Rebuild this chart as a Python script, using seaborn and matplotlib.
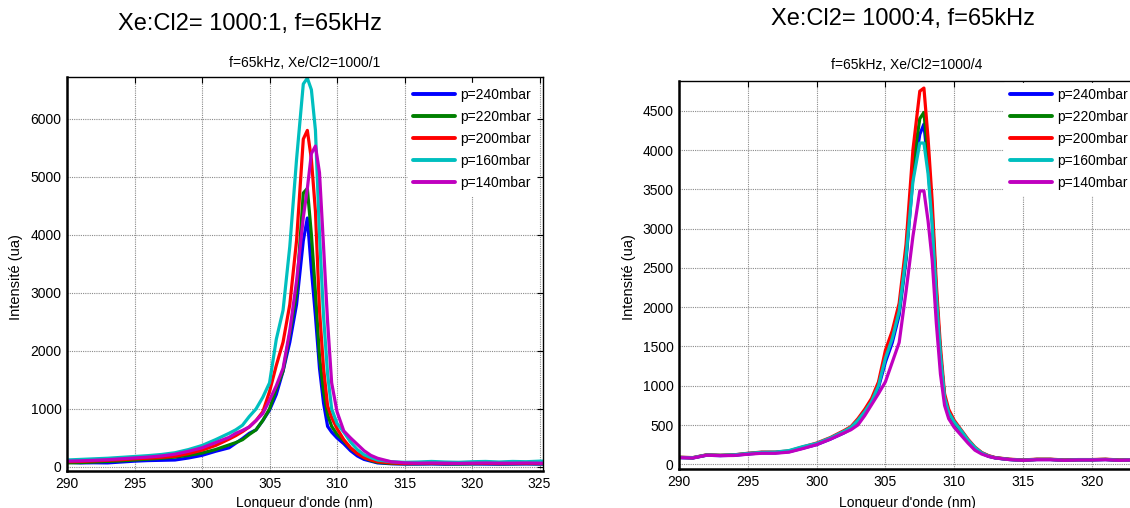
import matplotlib
matplotlib.use('Agg')
import matplotlib.pyplot as plt
import pandas as pd
import numpy as np
import seaborn as sns

# wavelength grid (nm), shared by every spectrum
wl = [290, 291, 292, 293, 294, 295, 296, 297, 298, 299, 300, 301, 302, 302.5, 303,
      303.5, 304, 304.5, 305, 305.5, 306, 306.5, 307, 307.5, 307.8, 308.1, 308.4,
      308.7, 309, 309.3, 309.6, 310, 310.5, 311, 311.5, 312, 312.5, 313, 314, 315,
      316, 317, 318, 319, 320, 321, 322, 323, 324, 325, 325.5]

labels = ['p=240mbar', 'p=220mbar', 'p=200mbar', 'p=160mbar', 'p=140mbar']
colors = ['#0000ff', '#008000', '#ff0000', '#00bfbf', '#bf00bf']

# Xe:Cl2 = 1000:1
left_240 = [80, 70, 72, 70, 85, 100, 110, 115, 120, 155, 200, 270, 330, 410, 490,
            580, 640, 800, 980, 1250, 1650, 2150, 2800, 3900, 4290, 3400, 2600,
            1700, 1100, 700, 600, 500, 400, 280, 190, 130, 100, 70, 55, 50,
            50, 52, 48, 50, 52, 50, 48, 50, 52, 50, 50]
left_220 = [70, 75, 85, 95, 105, 120, 135, 150, 170, 200, 240, 300, 380, 420, 470,
            560, 640, 800, 1000, 1350, 1650, 2300, 3000, 4720, 4800, 4000, 3000,
            1900, 1300, 900, 700, 560, 450, 320, 230, 160, 110, 80, 60, 55,
            55, 58, 55, 52, 55, 58, 55, 55, 58, 55, 55]
left_200 = [90, 95, 105, 115, 125, 140, 150, 165, 185, 230, 290, 370, 480, 540, 610,
            690, 800, 950, 1300, 1750, 2150, 2800, 3900, 5650, 5800, 5300, 4400,
            2700, 1700, 1050, 850, 660, 470, 330, 230, 160, 120, 90, 70, 60,
            62, 65, 60, 62, 65, 62, 60, 62, 65, 62, 62]
left_160 = [120, 130, 140, 150, 165, 180, 195, 215, 245, 300, 370, 470, 580, 640, 720,
            870, 1000, 1200, 1450, 2200, 2700, 3800, 5300, 6600, 6700, 6500, 5800,
            4000, 2600, 1600, 1000, 750, 600, 430, 300, 210, 160, 120, 90, 80,
            85, 95, 85, 80, 90, 95, 85, 95, 90, 100, 100]
left_140 = [100, 105, 115, 125, 140, 155, 170, 190, 220, 270, 330, 420, 510, 580, 630,
            690, 800, 920, 1150, 1400, 1700, 2350, 3200, 4300, 4800, 5400, 5530,
            5070, 3800, 2500, 1450, 950, 620, 500, 390, 280, 200, 150, 90, 70,
            65, 68, 65, 62, 65, 68, 65, 65, 68, 65, 65]

# Xe:Cl2 = 1000:4
right_240 = [85, 80, 115, 110, 115, 130, 145, 145, 160, 205, 250, 320, 400, 450, 540,
             650, 780, 980, 1300, 1550, 1900, 2600, 3650, 4200, 4330, 3800, 3100,
             2150, 1400, 850, 650, 520, 410, 300, 200, 140, 100, 80, 60, 50,
             60, 60, 50, 55, 55, 60, 50, 55, 60, 55, 55]
right_220 = [88, 82, 118, 112, 118, 135, 150, 150, 165, 212, 260, 330, 415, 465, 560,
             675, 810, 1020, 1380, 1620, 1950, 2650, 3800, 4400, 4480, 3900, 3200,
             2200, 1400, 850, 650, 530, 420, 305, 210, 145, 105, 82, 62, 52,
             62, 62, 52, 58, 58, 62, 52, 58, 62, 58, 58]
right_200 = [90, 85, 120, 115, 120, 140, 155, 155, 170, 220, 270, 340, 430, 480, 580,
             700, 840, 1050, 1450, 1700, 2050, 2800, 4000, 4750, 4790, 4150, 3350,
             2300, 1500, 900, 700, 560, 440, 320, 220, 150, 110, 85, 65, 55,
             65, 65, 55, 60, 60, 65, 55, 60, 65, 60, 60]
right_160 = [88, 84, 118, 114, 120, 138, 152, 155, 175, 225, 265, 335, 420, 470, 560,
             670, 800, 1000, 1350, 1600, 1950, 2650, 3600, 4090, 4090, 3700, 3050,
             2150, 1400, 850, 660, 540, 430, 310, 215, 145, 105, 82, 62, 52,
             62, 62, 52, 58, 58, 62, 52, 58, 62, 58, 58]
right_140 = [85, 80, 115, 110, 112, 128, 140, 140, 155, 200, 250, 320, 400, 440, 500,
             620, 760, 900, 1050, 1300, 1550, 2200, 2900, 3480, 3480, 3100, 2600,
             1800, 1150, 750, 580, 470, 370, 270, 180, 130, 100, 80, 60, 50,
             58, 58, 50, 55, 55, 58, 50, 55, 58, 55, 55]

left_series = [left_240, left_220, left_200, left_160, left_140]
right_series = [right_240, right_220, right_200, right_160, right_140]

sns.set_theme(style='white')
plt.rcParams['font.family'] = ['Liberation Sans', 'DejaVu Sans']
plt.rcParams['text.color'] = 'black'
plt.rcParams['axes.labelcolor'] = 'black'

fig = plt.figure(figsize=(11.3, 5.08), dpi=100)
ax1 = fig.add_axes([0.0593, 0.0728, 0.4212, 0.7756])
ax2 = fig.add_axes([0.6009, 0.0768, 0.4292, 0.7638])


def draw_panel(ax, series, yticks, ylim, xticks, leg_anchor):
    for vals, lab, col in zip(series, labels, colors):
        sns.lineplot(x=wl, y=vals, color=col, label=lab, lw=2.3, ax=ax)
    ax.set_xlim(290, 325.25)
    ax.set_ylim(*ylim)
    ax.set_xticks(xticks)
    ax.set_yticks(yticks)
    ax.grid(True, color='#8a8a8a', linestyle=(0, (1, 1)), linewidth=0.8)
    ax.tick_params(direction='in', length=4, width=0.8, top=True, right=True,
                   labelsize=10, colors='black', pad=4)
    for side in ['top', 'right']:
        ax.spines[side].set_linewidth(1.0)
        ax.spines[side].set_color('black')
    for side in ['left', 'bottom']:
        ax.spines[side].set_linewidth(1.8)
        ax.spines[side].set_color('black')
    ax.set_xlabel('')
    ax.set_ylabel('')
    leg = ax.legend(loc='upper left', bbox_to_anchor=leg_anchor, borderaxespad=0,
                    borderpad=0.38, fontsize=10, handlelength=3.05, handletextpad=0.35,
                    labelspacing=0.57, frameon=True, fancybox=False,
                    framealpha=1, edgecolor='white', facecolor='white')
    for line in leg.get_lines():
        line.set_linewidth(2.8)


draw_panel(ax1, left_series, np.arange(0, 6001, 1000), (-70, 6720),
           np.arange(290, 326, 5), (0.716, 0.985))
draw_panel(ax2, right_series, np.arange(0, 4501, 500), (-60, 4880),
           np.arange(290, 321, 5), (0.671, 0.995))

ax1.set_title('f=65kHz, Xe/Cl2=1000/1', fontsize=10, pad=7)
fig.text(0.8027, 0.872, 'f=65kHz, Xe/Cl2=1000/4', fontsize=10, ha='center', va='center')

fig.text(0.221, 0.952, 'Xe:Cl2= 1000:1, f=65kHz', fontsize=17, ha='center', va='center')
fig.text(0.799, 0.963, 'Xe:Cl2= 1000:4, f=65kHz', fontsize=17, ha='center', va='center')

fig.text(0.0142, 0.4547, 'Intensité (ua)', fontsize=10.5, rotation=90, ha='center', va='center')
fig.text(0.5566, 0.4547, 'Intensité (ua)', fontsize=10.5, rotation=90, ha='center', va='center')
fig.text(0.269, 0.0098, "Longueur d'onde (nm)", fontsize=10, ha='center', va='center')
fig.text(0.8027, 0.0098, "Longueur d'onde (nm)", fontsize=10, ha='center', va='center')

fig.savefig('out.png', dpi=100)
